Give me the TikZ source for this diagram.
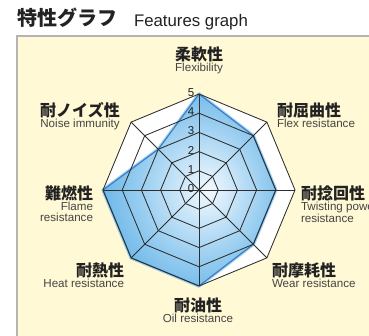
\documentclass[tikz,border=0pt]{standalone}
\usepackage{fontspec}
\setmainfont{Liberation Sans}
\newfontfamily\jp{Noto Sans CJK JP}
\usetikzlibrary{positioning,calc}
\definecolor{cream}{HTML}{FFF9D6}
\definecolor{frame}{HTML}{B4B4B4}
\definecolor{gridline}{HTML}{2E2E2E}
\definecolor{labeltxt}{HTML}{222222}
\definecolor{entxt}{HTML}{444444}
\definecolor{radin}{HTML}{F2F9FE}
\definecolor{radlight}{HTML}{D4EBFA}
\definecolor{radmid}{HTML}{98CDF0}
\definecolor{radout}{HTML}{5AAEE6}
\definecolor{radedge}{HTML}{3A7FC2}
\definecolor{radglow}{HTML}{6DB8EA}
\def\lvl{19.2}
\pgfdeclareradialshading{radarfill}{\pgfpoint{5.5bp}{0bp}}{color(0bp)=(radin); color(6bp)=(radlight); color(18bp)=(radmid); color(32bp)=(radout); color(50bp)=(radout)}

\begin{document}
\begin{tikzpicture}[% styles used by all parts of the chart
				x=1pt,y=1pt,
				every node/.style={inner sep=0pt,outer sep=0pt},
				jlabel/.style={font=\jp\bfseries\fontsize{16}{16}\selectfont,text=labeltxt},
				elabel/.style={font=\fontsize{11.6}{10.8}\selectfont,text=entxt,align=center},
				num/.style={font=\fontsize{11.5}{11.5}\selectfont,text=labeltxt},
				grid/.style={draw=gridline,line width=0.85pt,line join=miter}
			]
			\useasboundingbox (0,0) rectangle (369,336);
			% panel
			\fill[cream] (17,-2) rectangle (372,300);
			\draw[frame,line width=1.5pt] (17,-2) -- (17,300) -- (372,300);
			% title
			\node[anchor=base west,font=\jp\bfseries\fontsize{20}{20}\selectfont,text=labeltxt](T1) at (17,310){特性グラフ};
			\node[anchor=base west,font=\fontsize{16.8}{16.8}\selectfont,text=labeltxt](T2) at (134,309){Features graph};
			% chart
			\coordinate (c) at (199,146);
			\fill[white] ($(c)+(90:5*\lvl)$) \foreach \a in {45,0,...,-225}{-- ($(c)+(\a:5*\lvl)$)} -- cycle;
			\foreach \v [count=\i] in {5,4,4,4,5,5,5,3}
				\coordinate (d\i) at ($(c)+({135-45*\i}:{\v*\lvl})$);
			\draw[radglow,line width=3.5pt,opacity=.6,line join=round] (d1)--(d2)--(d3)--(d4)--(d5)--(d6)--(d7)--(d8)--cycle;
			\shade[shading=radarfill] (d1)--(d2)--(d3)--(d4)--(d5)--(d6)--(d7)--(d8)--cycle;
			\draw[radedge,line width=1.2pt,line join=round] (d1)--(d2)--(d3)--(d4)--(d5)--(d6)--(d7)--(d8)--cycle;
			\foreach \l in {1,...,5}
				\draw[grid] ($(c)+(90:\l*\lvl)$) \foreach \a in {45,0,...,-225}{-- ($(c)+(\a:\l*\lvl)$)} -- cycle;
			\foreach \a in {0,45,...,315}
				\draw[grid] (c) -- ($(c)+(\a:5*\lvl)$);
			\foreach \l in {0,...,5}
				\node[num](n\l) at ($(c)+(-8,\l*\lvl+1.5)$){\l};
			% labels
			\node[jlabel](J1) at (199,282){柔軟性};
			\node[elabel,below=1.5pt of J1](E1){Flexibility};
			\node[jlabel,anchor=west](J2) at (277,226){耐屈曲性};
			\node[elabel,below=1.5pt of J2.south west,anchor=north west](E2){Flex resistance};
			\node[jlabel,anchor=west](J3) at (301,143){耐捻回性};
			\node[elabel,align=left,below=1.5pt of J3.south west,anchor=north west](E3){Twisting power\\resistance};
			\node[jlabel,anchor=west](J4) at (272,66){耐摩耗性};
			\node[elabel,below=1.5pt of J4.south west,anchor=north west](E4){Wear resistance};
			\node[jlabel](J5) at (198,31){耐油性};
			\node[elabel,below=1.5pt of J5](E5){Oil resistance};
			\node[jlabel,anchor=east](J6) at (124,66){耐熱性};
			\node[elabel,below=1.5pt of J6.south east,anchor=north east](E6){Heat resistance};
			\node[jlabel,anchor=east](J7) at (93,143){難燃性};
			\node[elabel,align=right,below=1.5pt of J7.south east,anchor=north east](E7){Flame\\resistance};
			\node[jlabel](J8) at (80,226){耐ノイズ性};
			\node[elabel,below=1.5pt of J8](E8){Noise immunity};
		\end{tikzpicture}
\end{document}
